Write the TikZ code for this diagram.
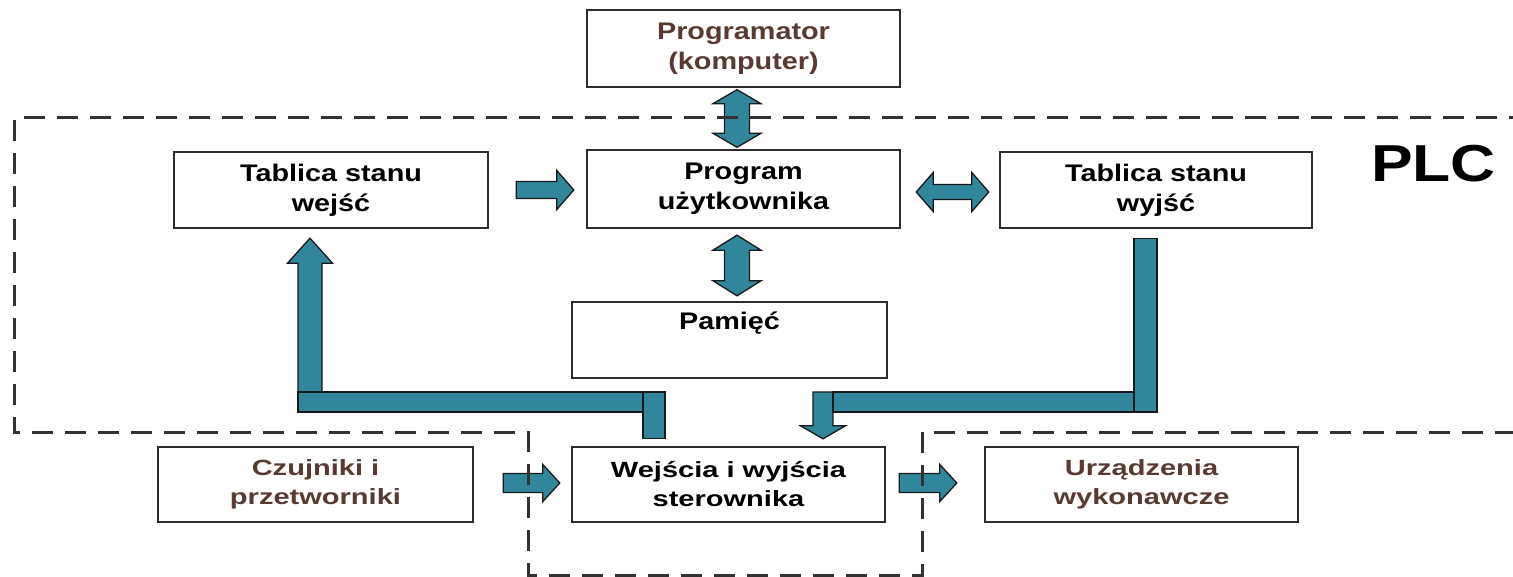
\documentclass[tikz,border=0pt]{standalone}
\usepackage{fontspec}
\setmainfont{Liberation Sans}
\newfontfamily\boxfont{Liberation Sans}[FakeStretch=1.2]
\newfontfamily\lowfont{Liberation Sans}[FakeStretch=1.32]
\usetikzlibrary{calc}

\definecolor{arrowfill}{RGB}{49,134,155}
\definecolor{boxline}{RGB}{45,45,45}
\definecolor{extbrown}{RGB}{88,58,48}
\definecolor{dashgray}{RGB}{50,50,50}

\tikzset{
  block/.style={draw=boxline, line width=2.4pt, fill=white, align=center,
    inner sep=0pt, font=\boxfont\bfseries\fontsize{24}{30}\selectfont},
  lowblock/.style={block, font=\lowfont\bfseries\fontsize{22}{29}\selectfont},
  blk/.style={fill=arrowfill, draw=black!90, line width=1.3pt, line join=miter},
  plcframe/.style={draw=dashgray, line width=3pt, dash pattern=on 21pt off 12pt},
}

% rightwards block arrow: tail, tip, shaft half, head half, head length
\newcommand\rblock[5]{%
  \path[blk] ($(#1)+(0,-#3)$) -- ($(#2)+(-#5,-#3)$) -- ($(#2)+(-#5,-#4)$)
    -- (#2) -- ($(#2)+(-#5,#4)$) -- ($(#2)+(-#5,#3)$) -- ($(#1)+(0,#3)$) -- cycle;}
% horizontal double block arrow: left tip, right tip, shaft half, head half, head length
\newcommand\hdblock[5]{%
  \path[blk] (#1) -- ($(#1)+(#5,-#4)$) -- ($(#1)+(#5,-#3)$) -- ($(#2)+(-#5,-#3)$)
    -- ($(#2)+(-#5,-#4)$) -- (#2) -- ($(#2)+(-#5,#4)$) -- ($(#2)+(-#5,#3)$)
    -- ($(#1)+(#5,#3)$) -- ($(#1)+(#5,#4)$) -- cycle;}
% vertical double block arrow: upper tip, lower tip, shaft half, head half, head length
\newcommand\vdblock[5]{%
  \path[blk] (#1) -- ($(#1)+(#4,#5)$) -- ($(#1)+(#3,#5)$) -- ($(#2)+(#3,-#5)$)
    -- ($(#2)+(#4,-#5)$) -- (#2) -- ($(#2)+(-#4,-#5)$) -- ($(#2)+(-#3,-#5)$)
    -- ($(#1)+(-#3,#5)$) -- ($(#1)+(-#4,#5)$) -- cycle;}
% vertical single block arrow: tail, tip, shaft half, head half, signed head length
\newcommand\vblock[5]{%
  \path[blk] ($(#1)+(-#3,0)$) -- ($(#2)+(-#3,#5)$) -- ($(#2)+(-#4,#5)$) -- (#2)
    -- ($(#2)+(#4,#5)$) -- ($(#2)+(#3,#5)$) -- ($(#1)+(#3,0)$) -- cycle;}

\begin{document}
\begin{tikzpicture}[x=1pt, y=-1pt]
\useasboundingbox[fill=white] (0,0) rectangle (1513,577);

% blocks
\node[block, minimum width=313pt, minimum height=77pt, text=extbrown] (progr) at (743.5,48.5) {Programator\\(komputer)};
\node[block, minimum width=313pt, minimum height=78pt] (prog) at (743.5,189) {Program\\użytkownika};
\node[block, minimum width=314pt, minimum height=76pt] (tin) at (331,190) {Tablica stanu\\wejść};
\node[block, minimum width=312pt, minimum height=76pt] (tout) at (1156,190) {Tablica stanu\\wyjść};
\node[block, minimum width=315pt, minimum height=76pt] (pam) at (729.5,340) {Pamięć\\\strut};
\node[lowblock, minimum width=315pt, minimum height=75pt, text=extbrown] (czu) at (315.5,484.5) {Czujniki i\\przetworniki};
\node[lowblock, minimum width=313pt, minimum height=75pt] (wej) at (728.5,484.5) {Wejścia i wyjścia\\sterownika};
\node[lowblock, minimum width=313pt, minimum height=75pt, text=extbrown] (urz) at (1141.5,484.5) {Urządzenia\\wykonawcze};

\node[anchor=base, inner sep=0pt, font=\boxfont\bfseries\fontsize{52}{52}\selectfont] (plc) at (1433.5,182) {PLC};

% arrow end points, taken from the blocks they join
\coordinate (a1t) at ($(progr.south)+(-6.5,1.5)$);
\coordinate (a1b) at ($(prog.north)+(-6.5,-1.5)$);
\coordinate (a4t) at ($(prog.south)+(-6.5,6)$);
\coordinate (a4b) at ($(pam.north)+(7.5,-5)$);
\coordinate (a2s) at ($(tin.east)+(27,0)$);
\coordinate (a2e) at ($(prog.west)+(-12,1)$);
\coordinate (a3s) at ($(prog.east)+(15,3)$);
\coordinate (a3e) at ($(tout.west)+(-10,2)$);
\coordinate (a7s) at ($(czu.east)+(29,-1.5)$);
\coordinate (a7e) at ($(wej.west)+(-11,-1.5)$);
\coordinate (a8s) at ($(wej.east)+(13,-1.5)$);
\coordinate (a8e) at ($(urz.west)+(-27,-1.5)$);

% block arrows between the blocks
\vdblock{a1t}{a1b}{12.5}{24}{14}
\vdblock{a4t}{a4b}{12.5}{24}{15}
\rblock{a2s}{a2e}{8.5}{19.5}{17}
\hdblock{a3s}{a3e}{7.5}{19.5}{17}
\rblock{a7s}{a7e}{9.5}{18.5}{17}
\rblock{a8s}{a8e}{9.5}{18.5}{17}

% input path: controller I/O -> input state table
\coordinate (inTip) at ($(tin.south)+(-21,9)$);
\coordinate (inTail) at (310,412);
\vblock{inTail}{inTip}{12}{22.5}{25}
\path[blk] (298,392) rectangle (643,412);
\path[blk] (643,392) rectangle ($(wej.north)+(-63.5,-7)$);

% output path: output state table -> controller I/O
\path[blk] ($(tout.south)+(-22,9)$) rectangle (1157,412);
\coordinate (outTail) at (823,392);
\coordinate (outTip) at ($(wej.north)+(94.5,-7)$);
\vblock{outTail}{outTip}{10}{22.5}{-13}
\path[blk] (833,392) rectangle (1134,412);

% PLC boundary
\draw[plcframe] (1530,118) -- (14,118) -- (14,432) -- (528,432) -- (528,575)
  -- (922,575) -- (922,432) -- (1530,432);
\end{tikzpicture}
\end{document}
